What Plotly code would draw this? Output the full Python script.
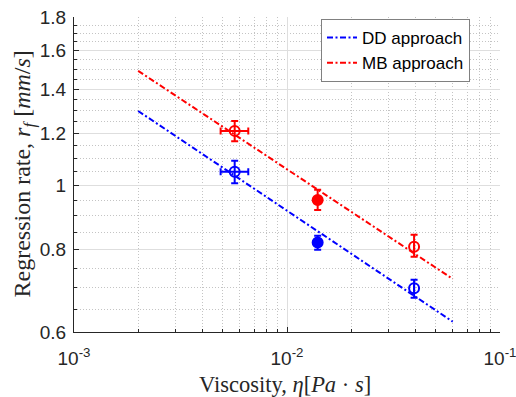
import plotly.graph_objects as go

# ---- data ----
fit_x = [0.002, 0.06]
dd_fit_y = [1.297, 0.622]
mb_fit_y = [1.492, 0.722]

open_x = [0.00568, 0.0395]
open_xerr_plus = [0.00090, 0.0]
open_xerr_minus = [0.00080, 0.0]
dd_open_y = [1.049, 0.699]
dd_open_err_plus = [0.041, 0.021]
dd_open_err_minus = [0.041, 0.023]
mb_open_y = [1.210, 0.808]
mb_open_err_plus = [0.042, 0.034]
mb_open_err_minus = [0.043, 0.028]

filled_x = [0.01393]
dd_filled_y = [0.820]
dd_filled_err_plus = [0.019]
dd_filled_err_minus = [0.021]
mb_filled_y = [0.951]
mb_filled_err_plus = [0.034]
mb_filled_err_minus = [0.033]

y_tickvals = [0.6, 0.8, 1.0, 1.2, 1.4, 1.6, 1.8]
y_ticktext = ["0.6", "0.8", "1", "1.2", "1.4", "1.6", "1.8"]
y_minor = [0.65, 0.7, 0.75, 0.85, 0.9, 0.95, 1.05, 1.1, 1.15, 1.25, 1.3, 1.35,
           1.45, 1.5, 1.55, 1.65, 1.7, 1.75]
x_tickvals = [0.001, 0.01, 0.1]
x_ticktext = ["10<sup>-3</sup>", "10<sup>-2</sup>", "10<sup>-1</sup>"]
x_minor = [k * 1e-3 for k in range(2, 10)] + [k * 1e-2 for k in range(2, 10)]

BLUE = "#0000ff"
RED = "#ff0000"
AX = "#262626"
DASH = "6px,2.5px,2px,2.5px"

fig = go.Figure()
fig.add_trace(go.Scatter(x=fit_x, y=dd_fit_y, mode="lines", name="DD approach",
                         line=dict(color=BLUE, width=2, dash=DASH)))
fig.add_trace(go.Scatter(x=fit_x, y=mb_fit_y, mode="lines", name="MB approach",
                         line=dict(color=RED, width=2, dash=DASH)))


def pts(x, y, ep, em, color, symbol, xp=None, xm=None):
    kw = {}
    if xp is not None:
        kw["error_x"] = dict(type="data", array=xp, arrayminus=xm, color=color,
                             thickness=2, width=3.5)
    fig.add_trace(go.Scatter(
        x=x, y=y, mode="markers", showlegend=False,
        marker=dict(symbol=symbol, size=10, color=color,
                    line=dict(color=color, width=2)),
        error_y=dict(type="data", array=ep, arrayminus=em, color=color,
                     thickness=2, width=3.5),
        **kw))


pts(open_x, dd_open_y, dd_open_err_plus, dd_open_err_minus, BLUE, "circle-open",
    open_xerr_plus, open_xerr_minus)
pts(open_x, mb_open_y, mb_open_err_plus, mb_open_err_minus, RED, "circle-open",
    open_xerr_plus, open_xerr_minus)
pts(filled_x, dd_filled_y, dd_filled_err_plus, dd_filled_err_minus, BLUE, "circle")
pts(filled_x, mb_filled_y, mb_filled_err_plus, mb_filled_err_minus, RED, "circle")

tickfont = dict(family="Liberation Sans, Arial, sans-serif", size=19, color=AX)
MINOR_GRID = "#c4c4c4"
MAJOR_GRID = "#dedede"

fig.update_xaxes(type="log", range=[-3, -1], tickvals=x_tickvals, ticktext=x_ticktext,
                 ticks="inside", ticklen=5, tickcolor=AX, tickwidth=1,
                 showline=True, linecolor=AX, linewidth=1, mirror=False,
                 showgrid=True, gridcolor=MAJOR_GRID, gridwidth=1, zeroline=False,
                 tickfont=tickfont, automargin=False, ticklabeloverflow="allow",
                 ticklabelstandoff=9,
                 minor=dict(tickvals=x_minor, ticks="inside", ticklen=3, tickcolor=AX,
                            showgrid=True, gridcolor=MINOR_GRID, griddash="1px,2px",
                            gridwidth=1))
fig.update_yaxes(type="log", range=[0.77815125 - 1, 0.25527251], tickvals=y_tickvals,
                 ticktext=y_ticktext,
                 ticks="inside", ticklen=5, tickcolor=AX, tickwidth=1,
                 showline=True, linecolor=AX, linewidth=1, mirror=False,
                 showgrid=True, gridcolor=MAJOR_GRID, gridwidth=1, zeroline=False,
                 tickfont=tickfont, ticklabelstandoff=3, automargin=False,
                 minor=dict(tickvals=y_minor, ticks="inside", ticklen=3, tickcolor=AX,
                            showgrid=True, gridcolor=MINOR_GRID, griddash="1px,2px",
                            gridwidth=1))

fig.add_annotation(xref="paper", yref="paper", x=(23 - 74) / 426, y=0.5,
                   text="Regression rate, <i>r<sub>f</sub></i> [<i>mm</i>/<i>s</i>]",
                   textangle=-90, showarrow=False,
                   font=dict(family="Liberation Serif, Times New Roman, serif", size=24,
                             color=AX),
                   xanchor="center", yanchor="middle")
fig.add_annotation(xref="paper", yref="paper", x=(285 - 74) / 426, y=(332 - 384) / 315,
                   text="Viscosity, <i>η</i>[<i>Pa</i> · <i>s</i>]",
                   showarrow=False,
                   font=dict(family="Liberation Serif, Times New Roman, serif", size=22.5,
                             color=AX),
                   xanchor="center", yanchor="middle")

fig.update_layout(
    width=516, height=397,
    margin=dict(l=74, r=16, t=17, b=65),
    paper_bgcolor="white", plot_bgcolor="white",
    showlegend=True,
    legend=dict(x=(321 - 74) / 426, y=(332 - 19) / 315, xanchor="left", yanchor="top",
                bgcolor="white", bordercolor="#808080", borderwidth=1,
                font=dict(family="Liberation Sans, Arial, sans-serif", size=17, color="black"),
                tracegroupgap=0, itemwidth=30),
)

fig.write_html("out.html")
